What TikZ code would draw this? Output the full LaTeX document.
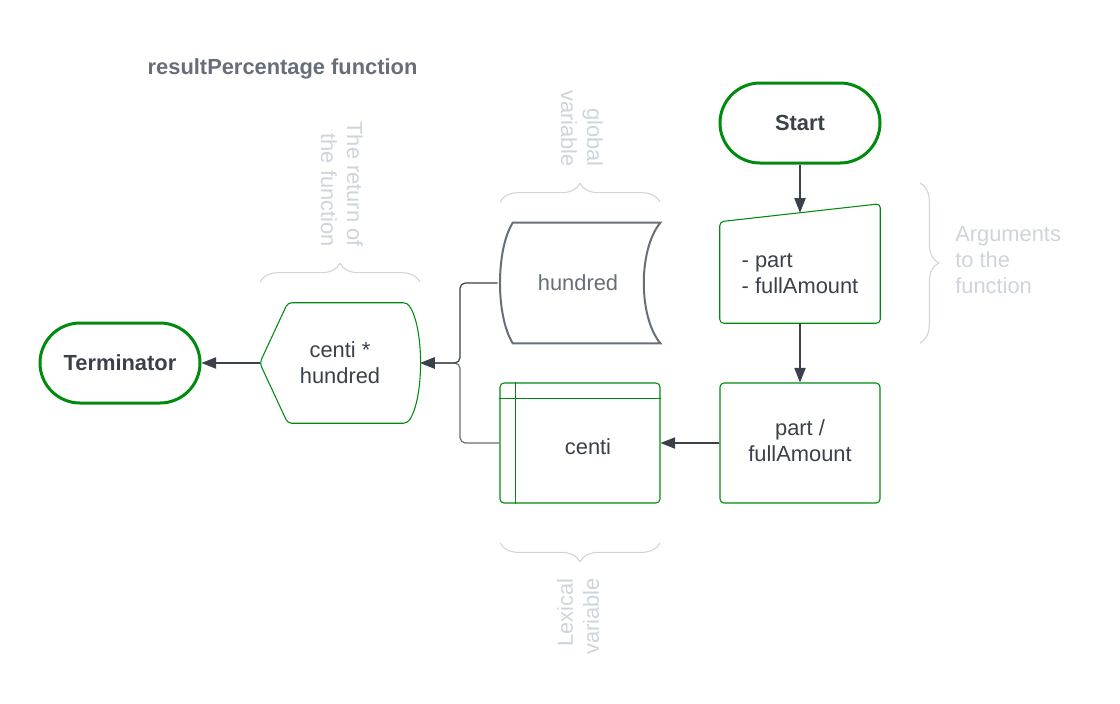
\documentclass[tikz,border=0pt]{standalone}
\usepackage{fontspec}
\setmainfont{Liberation Sans}
\usetikzlibrary{arrows.meta,calc,decorations.pathreplacing}

\definecolor{ink}{HTML}{3A414A}
\definecolor{inkgray}{HTML}{676E79}
\definecolor{notegray}{HTML}{CED4DB}
\definecolor{lucidgreen}{HTML}{008A0E}

\begin{document}
\begin{tikzpicture}[x=0.75pt, y=-0.75pt,
	every node/.style={font=\fontsize{16.4}{19.5}\selectfont, text=ink},
	terminal/.style={rectangle, rounded corners=30pt, draw=lucidgreen, line width=2.25pt, minimum width=120pt, minimum height=60pt, font=\fontsize{16.4}{19.5}\selectfont\bfseries},
	flowbox/.style={rectangle, minimum width=120pt, minimum height=90pt, align=center},
	greenline/.style={draw=lucidgreen, line width=0.8pt, rounded corners=3pt},
	storeline/.style={draw=inkgray, line width=1.5pt},
	flow/.style={draw=ink, line width=0.9pt, -{Triangle[length=11pt,width=8.5pt]}},
	remark/.style={text=notegray, inner sep=0pt},
	bracket/.style={draw=notegray, line width=0.8pt, decorate, decoration={brace, amplitude=14pt}}
	]

		\useasboundingbox (0,0) rectangle (1120,703);

		\node[anchor=west, text=inkgray, font=\fontsize{16.4}{19.5}\selectfont\bfseries] (title) at (143,69) {resultPercentage function};

		\node[terminal] (start) at (800,123) {Start};
		\node[flowbox, minimum height=82.5pt, align=left] (args) at (800,268) {\rule{0pt}{19.5pt}- part\\- fullAmount};
		\node[flowbox, greenline] (divide) at (800,443) {part /\\fullAmount\rule[-4pt]{0pt}{4pt}};
		\node[flowbox, greenline] (centi) at (580,443) {\hspace*{12pt}\rule{0pt}{18pt}centi};
		\node[flowbox, text=inkgray] (hundred) at (578,283) {hundred};
		\node[flowbox] (product) at (340,363) {centi *\\hundred};
		\node[terminal] (terminator) at (120,363) {Terminator};
		\coordinate (merge) at (460,363);

		% manual input
		\draw[greenline] ($(args.north west)+(0,9)$) -- ($(args.north east)+(0,-9)$) -- (args.south east) -- (args.south west) -- cycle;
		% internal storage
		\draw[greenline, rounded corners=0pt] ($(centi.north west)+(16,0)$) -- ($(centi.south west)+(16,0)$);
		\draw[greenline, rounded corners=0pt] ($(centi.north west)+(0,16)$) -- ($(centi.north east)+(0,16)$);
		% stored data
		\draw[storeline] ($(hundred.north west)+(15,0)$) -- ($(hundred.north east)+(2,0)$)
			.. controls ($(hundred.east)+(-20,-33)$) and ($(hundred.east)+(-20,33)$) .. ($(hundred.south east)+(2,0)$)
			-- ($(hundred.south west)+(15,0)$)
			.. controls ($(hundred.west)+(-2,33)$) and ($(hundred.west)+(-2,-33)$) .. cycle;
		% display
		\draw[greenline] (product.west) -- ($(product.north west)+(28,0)$) -- ($(product.north east)+(-13,0)$)
			.. controls ($(product.east)+(4,-35)$) and ($(product.east)+(4,35)$) .. ($(product.south east)+(-13,0)$)
			-- ($(product.south west)+(28,0)$) -- cycle;

		\draw[flow] (start) -- (args);
		\draw[flow] (args) -- (divide);
		\draw[flow] (divide) -- (centi);
		\draw[flow, draw=inkgray, rounded corners=4pt] (centi.west) -| (merge) -- (product.east);
		\draw[flow, rounded corners=4pt] (hundred.west) -| (merge) -- (product.east);
		\draw[flow] (product) -- (terminator);

		\draw[bracket] (920,183) -- (920,343);
		\draw[bracket] (500,202) -- (660,202);
		\draw[bracket] (260,282) -- (420,282);
		\draw[bracket] (660,543) -- (500,543);

		\node[remark, anchor=west, align=left] (argnote) at (955,260) {Arguments\\to the\\function};
		\node[remark, rotate=-90, anchor=east, align=right] (globalnote) at (582,167) {global\\variable};
		\node[remark, rotate=-90, anchor=east, align=right] (returnnote) at (342,247) {The return of\\the function};
		\node[remark, rotate=90, anchor=east, align=right] (lexicalnote) at (578,578) {Lexical\\variable};

	\end{tikzpicture}
\end{document}
